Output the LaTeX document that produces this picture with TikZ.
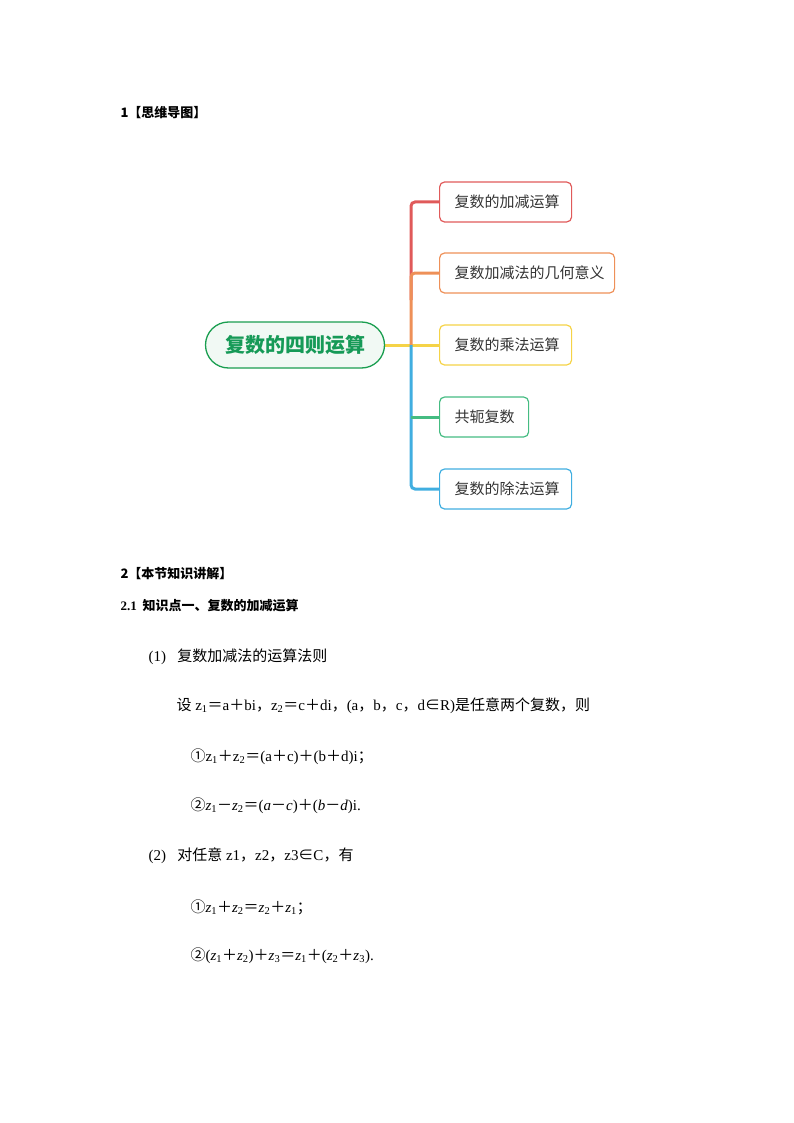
\documentclass[tikz,border=0pt]{standalone}
\usepackage{fontspec}
\setmainfont{Liberation Serif}
\newfontfamily\cjk{Noto Sans CJK SC}
\newcommand{\zh}[1]{{\cjk #1}}
\newcommand{\Zpl}{{\cjk ＋}}
\newcommand{\Zeq}{{\cjk ＝}}
\newcommand{\Zcm}{{\cjk ，}}
\newcommand{\Zsc}{{\cjk ；}}
\newcommand{\Zmi}{{\cjk －}}
\newcommand{\Zin}{{\cjk ∈}}
\definecolor{cred}{HTML}{E05A5A}
\definecolor{corg}{HTML}{EE9058}
\definecolor{cyel}{HTML}{F5D347}
\definecolor{cgrn}{HTML}{45BC82}
\definecolor{cblu}{HTML}{40AEE0}
\definecolor{cgreen}{HTML}{1A9E50}
\begin{document}
\begin{tikzpicture}[x=1pt,y=-1pt,
  child/.style={draw=#1,line width=1.2pt,rounded corners=5pt,minimum height=40pt,anchor=west,inner xsep=15pt,font=\cjk\fontsize{15}{18}\selectfont,text=black!80},
  br/.style={line width=3pt,draw=#1,rounded corners=4pt},
  head/.style={anchor=west,font=\cjk\bfseries\fontsize{13}{15}\selectfont},
  body/.style={anchor=west,font=\fontsize{15}{17}\selectfont}]
\useasboundingbox (0,0) rectangle (794,1123);
\node[head] (h1) at (117,113) {1【思维导图】};
% mind map
\coordinate (t) at (411,345);
\draw[br=cyel] (384,345) -- (439,345);
\draw[br=cred] (411,300) -- (411,202) -- (439,202);
\draw[br=corg] (411,345) -- (411,273) -- (439,273);
\draw[br=cblu] (411,345) -- (411,489) -- (439,489);
\draw[br=cgrn] (411,417) -- (439,417);
\node[draw=cgreen,fill=cgreen!6,line width=1.3pt,rounded corners=23pt,minimum width=179pt,minimum height=46pt,font=\cjk\bfseries\fontsize{20}{24}\selectfont,text=cgreen!85!teal] (c) at (295,345) {复数的四则运算};
\node[child=cred,minimum width=132pt,text width=102pt] (a1) at (439,202) {复数的加减运算};
\node[child=corg,minimum width=175pt,text width=145pt] (a2) at (439,273) {复数加减法的几何意义};
\node[child=cyel,minimum width=132pt,text width=102pt] (a3) at (439,345) {复数的乘法运算};
\node[child=cgrn,minimum width=89pt,text width=59pt] (a4) at (439,417) {共轭复数};
\node[child=cblu,minimum width=132pt,text width=102pt] (a5) at (439,489) {复数的除法运算};
% text
\node[head] (h2) at (117,574) {2【本节知识讲解】};
\node[head] (h3) at (117,606) {\textrm{\bfseries 2.1}\ \ 知识点一、复数的加减运算};
\node[body] (p1) at (145,657) {(1)\ \ \ \zh{复数加减法的运算法则}};
\node[body] (p2) at (173,706) {\zh{设} z\textsubscript{1}\Zeq a\Zpl bi\Zcm z\textsubscript{2}\Zeq c\Zpl di\Zcm (a\Zcm b\Zcm c\Zcm d\Zin R)\zh{是任意两个复数，则}};
\node[body] (p3) at (187,757) {\zh{①}z\textsubscript{1}\Zpl z\textsubscript{2}\Zeq (a\Zpl c)\Zpl (b\Zpl d)i\Zsc};
\node[body] (p4) at (187,806) {\zh{②}\textit{z}\textsubscript{1}\Zmi\textit{z}\textsubscript{2}\Zeq(\textit{a}\Zmi\textit{c})\Zpl(\textit{b}\Zmi\textit{d})i.};
\node[body] (p5) at (145,856) {(2)\ \ \ \zh{对任意} z1\Zcm z2\Zcm z3\Zin C\Zcm\zh{有}};
\node[body] (p6) at (187,907) {\zh{①}\textit{z}\textsubscript{1}\Zpl\textit{z}\textsubscript{2}\Zeq\textit{z}\textsubscript{2}\Zpl\textit{z}\textsubscript{1}\Zsc};
\node[body] (p7) at (187,956) {\zh{②}(\textit{z}\textsubscript{1}\Zpl\textit{z}\textsubscript{2})\Zpl\textit{z}\textsubscript{3}\Zeq\textit{z}\textsubscript{1}\Zpl(\textit{z}\textsubscript{2}\Zpl\textit{z}\textsubscript{3}).};
\end{tikzpicture}
\end{document}
